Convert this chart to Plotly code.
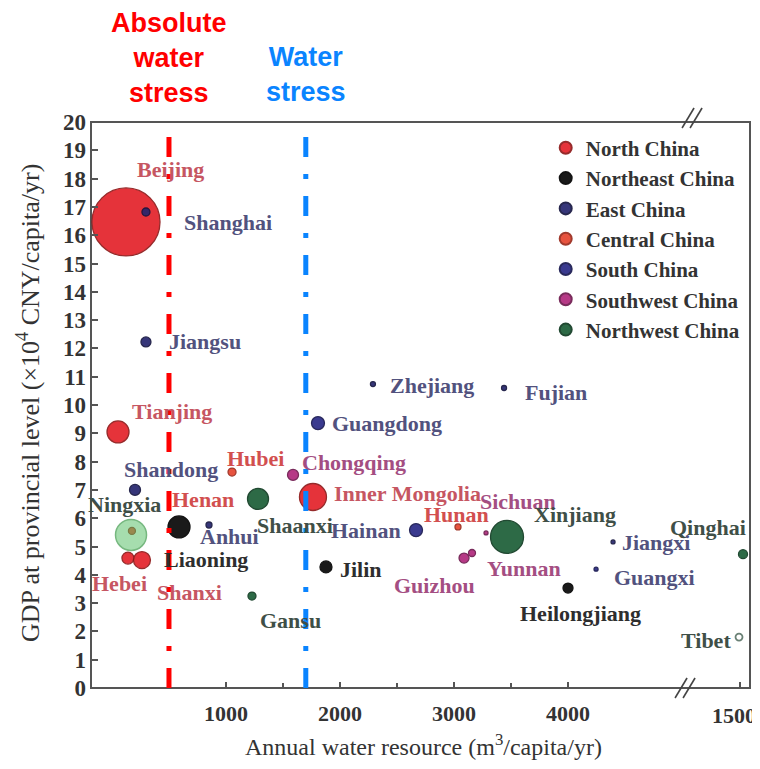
import plotly.graph_objects as go

# ---------------- data ----------------
provinces = ["Beijing", "Tianjing", "Hebei", "Shanxi", "Inner Mongolia",
             "Liaoning", "Jilin", "Heilongjiang",
             "Shanghai", "Jiangsu", "Zhejiang", "Anhui", "Fujian", "Jiangxi", "Shandong",
             "Henan", "Hubei", "Hunan",
             "Guangdong", "Guangxi", "Hainan",
             "Chongqing", "Sichuan", "Guizhou", "Yunnan",
             "Shaanxi", "Gansu", "Ningxia", "Xinjiang", "Qinghai", "Tibet"]
regions = ["North China"] * 5 + ["Northeast China"] * 3 + ["East China"] * 7 + \
          ["Central China"] * 3 + ["South China"] * 3 + ["Southwest China"] * 4 + \
          ["Northwest China"] * 6
water = [123, 53, 140, 263, 1763,
         588, 1877, 4000,
         298, 298, 2289, 851, 3439, 4395, 202,
         175, 1053, 3035,
         1807, 4246, 2667,
         1588, 3281, 3088, 3158,
         1281, 1228, 167, 3465, 15030, 14990]
gdp = [16.47, 9.05, 4.59, 4.52, 6.75,
       5.69, 4.28, 3.53,
       16.82, 12.23, 10.74, 5.76, 10.60, 5.16, 7.00,
       5.55, 7.63, 5.69,
       9.36, 4.20, 5.58,
       7.53, 5.48, 4.59, 4.77,
       6.68, 3.25, 5.41, 5.34, 4.73, 1.80]
bubble = [68, 22, 12, 17, 27,
          22, 12, 10,
          8, 10, 5, 6, 5, 4, 11,
          7, 8, 6,
          13, 4, 13,
          11, 4, 10, 7,
          21, 8, 31, 33, 9, 7]

region_order = ["North China", "Northeast China", "East China", "Central China",
                "South China", "Southwest China", "Northwest China"]
x_main_ticks = [1000, 2000, 3000, 4000]
x_minor_ticks = [500, 1500, 2500, 3500]
x_break_tick = 15000
x_break_ticktext = "1500"
absolute_stress = 500
water_stress = 1700

# ---------------- styles ----------------
marker_fill = {"North China": "#e3222a", "Northeast China": "#070707",
               "East China": "#25256e", "Central China": "#e5452f",
               "South China": "#2a2a86", "Southwest China": "#b0297c",
               "Northwest China": "#1c5e37"}
marker_edge = {"North China": "#8e1a1a", "Northeast China": "#000000",
               "East China": "#15153f", "Central China": "#9a2a1c",
               "South China": "#17174f", "Southwest China": "#6e1a4e",
               "Northwest China": "#0f3a21"}
label_color = {"North China": "#c65662", "Northeast China": "#2e2e2e",
               "East China": "#52527e", "Central China": "#d24f4f",
               "South China": "#52527e", "Southwest China": "#a44e82",
               "Northwest China": "#3f4f47"}
special = {
    "Ningxia": dict(color="rgba(80,190,95,0.72)", line=dict(color="#3d9a4a", width=1.5)),
    "Tibet": dict(color="white", line=dict(color="#2c4c3c", width=1.8)),
}
# label offsets in pixels: (dx, dy, xanchor)
label_pos = {
    "Beijing": (9, 52, "left"), "Shanghai": (36, -11, "left"), "Jiangsu": (21, 0, "left"),
    "Tianjing": (12, 20, "left"), "Shandong": (-13, 20, "left"), "Hubei": (-7, 14, "left"),
    "Chongqing": (7, 12, "left"), "Ningxia": (32, 30, "right"), "Henan": (38, 31, "left"),
    "Inner Mongolia": (19, 3, "left"), "Shaanxi": (-3, -27, "left"), "Hainan": (-13, 0, "right"),
    "Anhui": (-11, -12, "left"), "Liaoning": (-17, -33, "left"), "Hebei": (-8, -25, "center"),
    "Shanxi": (13, -32, "left"), "Gansu": (6, -24, "left"), "Jilin": (12, -3, "left"),
    "Zhejiang": (15, -1, "left"), "Fujian": (19, -4, "left"), "Guangdong": (12, 0, "left"),
    "Hunan": (-36, 12, "left"), "Sichuan": (-8, 31, "left"), "Xinjiang": (25, 22, "left"),
    "Yunnan": (13, -15, "left"), "Guizhou": (-72, -27, "left"), "Heilongjiang": (-50, -25, "left"),
    "Jiangxi": (7, -1, "left"), "Guangxi": (16, -8, "left"), "Qinghai": (5, 27, "right"),
    "Tibet": (-6, -3, "right"),
}

SERIF = "Liberation Serif"
AXC = "#555555"
BREAK_VALUE = 5053
MAIN_RANGE = [-184, BREAK_VALUE]
SECOND_RANGE = [14480, 15100]
DOMAIN_SPLIT = 0.906

fig = go.Figure()

def axis_of(v):
    return "x" if v < BREAK_VALUE else "x2"

for reg in region_order:
    first = True
    for ax in ("x", "x2"):
        idx = [i for i in range(len(provinces))
               if regions[i] == reg and axis_of(water[i]) == ax and provinces[i] not in special]
        if not idx and not first:
            continue
        fig.add_trace(go.Scatter(
            x=[water[i] for i in idx], y=[gdp[i] for i in idx],
            xaxis=ax, yaxis="y", mode="markers", name=reg, legendgroup=reg,
            showlegend=first, cliponaxis=False,
            text=[provinces[i] for i in idx],
            marker=dict(size=[bubble[i] for i in idx], sizemode="diameter",
                        color=marker_fill[reg], opacity=0.92,
                        line=dict(color=marker_edge[reg], width=1.3)),
        ))
        first = False

for name, sty in special.items():
    i = provinces.index(name)
    fig.add_trace(go.Scatter(
        x=[water[i]], y=[gdp[i]], xaxis=axis_of(water[i]), yaxis="y",
        mode="markers", showlegend=False, cliponaxis=False,
        marker=dict(size=[bubble[i]], sizemode="diameter", **sty),
    ))

annotations = []
for i, name in enumerate(provinces):
    dx, dy, anc = label_pos[name]
    ax = axis_of(water[i])
    annotations.append(dict(
        x=water[i], y=gdp[i], xref=ax, yref="y", text=name, showarrow=False,
        xanchor=anc, yanchor="middle", xshift=dx, yshift=dy,
        font=dict(family=SERIF, size=22, color=label_color[regions[i]], weight="bold"),
    ))

# headings for stress thresholds
annotations.append(dict(x=absolute_stress, y=1.113, xref="x", yref="paper",
                        text="Absolute<br>water<br>stress", showarrow=False,
                        xanchor="center", yanchor="middle",
                        font=dict(family="Liberation Sans", size=27, color="#ff0000", weight="bold")))
annotations.append(dict(x=water_stress, y=1.084, xref="x", yref="paper",
                        text="Water<br>stress", showarrow=False,
                        xanchor="center", yanchor="middle",
                        font=dict(family="Liberation Sans", size=27, color="#0a84ff", weight="bold")))
# axis titles
annotations.append(dict(x=0.505, y=-0.1007, xref="paper", yref="paper",
                        text="Annual water resource (m<sup>3</sup>/capita/yr)", showarrow=False,
                        xanchor="center", yanchor="middle",
                        font=dict(family=SERIF, size=24, color="#333333")))
annotations.append(dict(x=-0.0956, y=0.5035, xref="paper", yref="paper", textangle=-90,
                        text="GDP at provincial level (×10<sup>4</sup> CNY/capita/yr)", showarrow=False,
                        xanchor="center", yanchor="middle",
                        font=dict(family=SERIF, size=26, color="#333333")))
# tick label after the axis break (partly cut by the picture edge in the original)
annotations.append(dict(x=1.012, y=-0.049, xref="paper", yref="paper",
                        text=x_break_ticktext, showarrow=False,
                        xanchor="right", yanchor="middle",
                        font=dict(family=SERIF, size=22, color="#333333", weight="bold")))

# page body adds an 8px offset; figure is sized so the plot box sits at 91..750 x 122..688
W, H = 752, 761
ML, MR, MT, MB = 83, 10, 114, 81
PW, PH = W - ML - MR, H - MT - MB
px = 1.0 / PW
py = 1.0 / PH

shapes = [
    dict(type="rect", xref="paper", yref="paper", x0=0, x1=1, y0=0, y1=1,
         line=dict(color=AXC, width=2), layer="below"),
    dict(type="line", xref="x", yref="y", x0=absolute_stress, x1=absolute_stress, y0=0, y1=19.5,
         line=dict(color="#ff0000", width=5, dash="20px,17px,5px,17px"), layer="above"),
    dict(type="line", xref="x", yref="y", x0=water_stress, x1=water_stress, y0=0, y1=20,
         line=dict(color="#0a84ff", width=5, dash="20px,17px,5px,17px"), layer="above"),
]
# axis-break marks "//"
for cx, cy in ((DOMAIN_SPLIT - 3 * px, 0.0), (DOMAIN_SPLIT + 4 * px, 1.0 + 4 * py)):
    for off in (-4, 4):
        shapes.append(dict(type="line", xref="paper", yref="paper",
                           x0=cx + (off - 6) * px, y0=cy - 10 * py,
                           x1=cx + (off + 6) * px, y1=cy + 10 * py,
                           line=dict(color="#444444", width=1.6)))

xtickfont = dict(family=SERIF, size=22, color="#333333", weight="bold")
ytickfont = dict(family=SERIF, size=23, color="#333333", weight="bold")
fig.update_layout(
    width=W, height=H, margin=dict(l=ML, r=MR, t=MT, b=MB),
    paper_bgcolor="white", plot_bgcolor="white",
    xaxis=dict(domain=[0, DOMAIN_SPLIT], range=MAIN_RANGE, tickvals=x_main_ticks,
               ticks="inside", ticklen=6, tickwidth=1.5, tickcolor=AXC,
               minor=dict(tickvals=x_minor_ticks, ticks="inside", ticklen=5, tickcolor=AXC, tickwidth=1.5),
               showgrid=False, zeroline=False, showline=False, tickfont=xtickfont,
               ticklabelstandoff=10),
    xaxis2=dict(domain=[DOMAIN_SPLIT, 1], range=SECOND_RANGE, anchor="y",
                tickvals=[x_break_tick], showticklabels=False,
                ticks="inside", ticklen=6, tickwidth=1.5, tickcolor=AXC,
                showgrid=False, zeroline=False, showline=False),
    yaxis=dict(range=[0, 20], dtick=1, ticks="inside", ticklen=7, tickwidth=1.5, tickcolor=AXC,
               showgrid=False, zeroline=False, showline=False, tickfont=ytickfont,
               ticklabelstandoff=4),
    legend=dict(x=0.69, y=0.99, xanchor="left", yanchor="top", bgcolor="rgba(0,0,0,0)",
                font=dict(family=SERIF, size=21, color="#333333", weight="bold"),
                itemsizing="constant", tracegroupgap=0),
    annotations=annotations, shapes=shapes,
)

fig.write_html("out.html")
